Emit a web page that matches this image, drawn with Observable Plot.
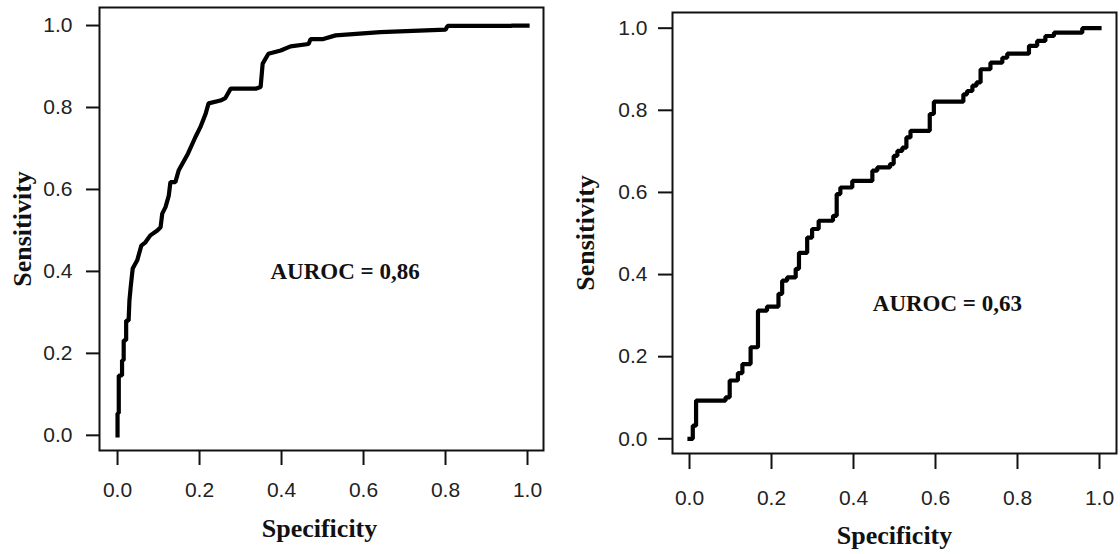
<!DOCTYPE html>
<html>
<head>
<meta charset="utf-8">
<script src="https://cdn.jsdelivr.net/npm/d3@7"></script>
<script src="https://cdn.jsdelivr.net/npm/@observablehq/plot@0.6"></script>
<style>
  html, body { margin: 0; padding: 0; background: #fff; }
  #wrap { position: relative; width: 1120px; height: 554px; overflow: hidden; }
  .panel { position: absolute; top: 0; }
</style>
</head>
<body>
<div id="wrap">
  <div class="panel" id="left" style="left:0px"></div>
  <div class="panel" id="right" style="left:560px"></div>
</div>
<script>
// ---- data ----
const tickValues = [0, 0.2, 0.4, 0.6, 0.8, 1.0];
const tickLabels = ["0.0", "0.2", "0.4", "0.6", "0.8", "1.0"];
const xTitle = "Specificity";
const yTitle = "Sensitivity";

// Left panel ROC curve (vertices)
const fprA = [0, 0, 0.003, 0.003, 0.011, 0.011, 0.015, 0.015, 0.021, 0.021,
  0.027, 0.029, 0.032, 0.037, 0.048, 0.058, 0.068, 0.080, 0.097, 0.105,
  0.109, 0.117, 0.125, 0.129, 0.141, 0.149, 0.172, 0.190, 0.202, 0.215,
  0.222, 0.251, 0.263, 0.276, 0.337, 0.349, 0.354, 0.368, 0.398, 0.422,
  0.466, 0.471, 0.502, 0.532, 0.641, 0.8, 0.805, 0.959, 0.963, 1.0];
const tprA = [0, 0.054, 0.054, 0.146, 0.146, 0.183, 0.183, 0.232, 0.232, 0.28,
  0.28, 0.329, 0.361, 0.407, 0.427, 0.463, 0.471, 0.488, 0.5, 0.508,
  0.541, 0.557, 0.585, 0.618, 0.618, 0.646, 0.688, 0.728, 0.752, 0.785,
  0.810, 0.817, 0.823, 0.846, 0.846, 0.85, 0.907, 0.931, 0.939, 0.949,
  0.955, 0.967, 0.967, 0.976, 0.984, 0.99, 0.999, 0.999, 1.0, 1.0];
const labelA = "AUROC = 0,86";

// Right panel ROC curve (step points: top of each vertical rise)
const fprB = [0, 0.008, 0.016, 0.088, 0.098, 0.118, 0.129, 0.149, 0.167, 0.189,
  0.217, 0.226, 0.238, 0.259, 0.267, 0.287, 0.299, 0.315, 0.35, 0.359,
  0.368, 0.397, 0.446, 0.458, 0.489, 0.498, 0.507, 0.519, 0.529, 0.539,
  0.586, 0.596, 0.668, 0.677, 0.69, 0.7, 0.71, 0.734, 0.763, 0.775,
  0.828, 0.848, 0.868, 0.889, 0.958, 1.0];
const tprB = [0, 0.032, 0.093, 0.101, 0.142, 0.16, 0.182, 0.223, 0.312, 0.322,
  0.353, 0.385, 0.393, 0.414, 0.453, 0.49, 0.511, 0.531, 0.543, 0.596,
  0.612, 0.628, 0.653, 0.661, 0.669, 0.689, 0.701, 0.709, 0.734, 0.75,
  0.791, 0.821, 0.839, 0.847, 0.86, 0.868, 0.9, 0.916, 0.928, 0.938,
  0.957, 0.969, 0.981, 0.989, 1.0, 1.0];
const labelB = "AUROC = 0,63";

// ---- drawing ----
const fmt = d => tickLabels[tickValues.indexOf(d)] ?? d3.format(".1f")(d);
const serif = "'Liberation Serif', 'Times New Roman', serif";

function panel(cfg) {
  const data = cfg.fpr.map((x, i) => ({x, y: cfg.tpr[i]}));
  return Plot.plot({
    width: 560,
    height: 554,
    marginLeft: cfg.ml, marginRight: cfg.mr, marginTop: cfg.mt, marginBottom: cfg.mb,
    style: {fontFamily: "'Liberation Sans', Arial, sans-serif", fontSize: "21px", color: "#222", background: "#fff"},
    x: {domain: cfg.xd, label: null},
    y: {domain: cfg.yd, label: null},
    marks: [
      Plot.frame({stroke: "#111", strokeWidth: 2}),
      Plot.axisX({ticks: tickValues, tickFormat: fmt, tickSize: cfg.xts, tickPadding: cfg.xtp,
        strokeWidth: 2, stroke: "#111", fill: "#222", fontSize: 21, label: null}),
      Plot.axisY({ticks: tickValues, tickFormat: fmt, tickSize: cfg.yts, tickPadding: cfg.ytp,
        strokeWidth: 2, stroke: "#111", fill: "#222", fontSize: 21, label: null}),
      Plot.line(data, {x: "x", y: "y", stroke: "#000", strokeWidth: 4.2,
        curve: cfg.curve, strokeLinejoin: "miter", strokeLinecap: "square"}),
      Plot.text([cfg.label], {x: cfg.lx, y: cfg.ly, text: d => d,
        fontFamily: serif, fontWeight: "bold", fontSize: 23, fill: "#111"}),
      Plot.text([xTitle], {frameAnchor: "bottom", dy: cfg.xtdy, dx: cfg.xtdx, lineAnchor: "top", textAnchor: "middle",
        text: d => d, fontFamily: serif, fontWeight: "bold", fontSize: 26, fill: "#111"}),
      Plot.text([yTitle], {frameAnchor: "left", dx: cfg.ytdx, rotate: -90, textAnchor: "middle", lineAnchor: "middle",
        text: d => d, fontFamily: serif, fontWeight: "bold", fontSize: 26, fill: "#111"})
    ]
  });
}

document.getElementById("left").append(panel({
  fpr: fprA, tpr: tprA, label: labelA, curve: "linear",
  ml: 99, mr: 17, mt: 7, mb: 104,
  xd: [-0.044, 1.039], yd: [-0.037, 1.044],
  xts: 15, xtp: 17, yts: 13, ytp: 14,
  lx: 0.555, ly: 0.40,
  xtdy: 68, xtdx: -2, ytdx: -77
}));

document.getElementById("right").append(panel({
  fpr: fprB, tpr: tprB, label: labelB, curve: "step-after",
  ml: 112, mr: 4, mt: 12, mb: 101,
  xd: [-0.0415, 1.0415], yd: [-0.0358, 1.0382],
  xts: 16, xtp: 21, yts: 14, ytp: 11,
  lx: 0.629, ly: 0.329,
  xtdy: 72, xtdx: 0, ytdx: -87
}));
</script>
</body>
</html>
